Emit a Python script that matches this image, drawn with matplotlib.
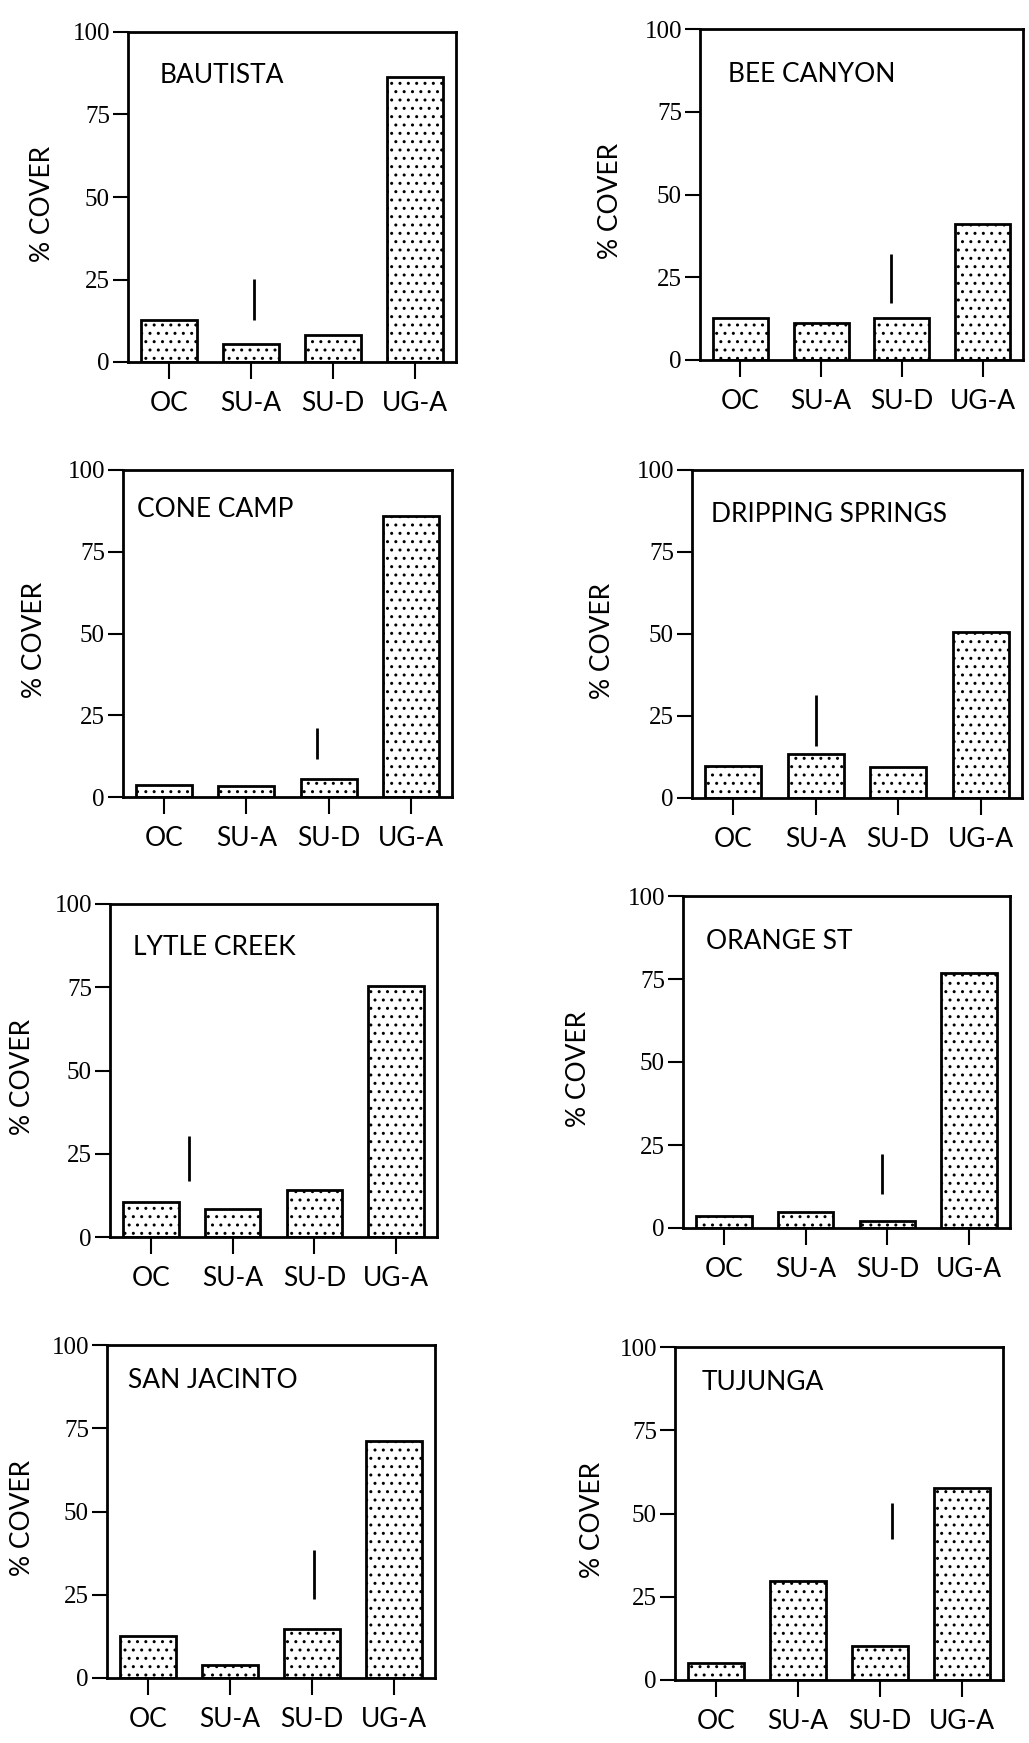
import matplotlib
matplotlib.use("Agg")
import matplotlib.pyplot as plt

plt.rcParams['hatch.linewidth'] = 1.0

# % cover by site and vegetation type
categories = ["OC", "SU-A", "SU-D", "UG-A"]
sites = ["BAUTISTA", "BEE CANYON", "CONE CAMP", "DRIPPING SPRINGS",
         "LYTLE CREEK", "ORANGE ST", "SAN JACINTO", "TUJUNGA"]

bautista = [12.7, 5.5, 8.2, 86.4]
bee_canyon = [12.6, 11.1, 12.6, 41.1]
cone_camp = [3.6, 3.3, 5.6, 85.9]
dripping_springs = [9.8, 13.4, 9.3, 50.6]
lytle_creek = [10.5, 8.3, 14.2, 75.5]
orange_st = [3.7, 4.8, 2.2, 76.7]
san_jacinto = [12.6, 3.8, 14.8, 71.1]
tujunga = [5.0, 29.8, 10.3, 57.6]
cover = [bautista, bee_canyon, cone_camp, dripping_springs,
         lytle_creek, orange_st, san_jacinto, tujunga]

# LSD bar: position (in category units) and its low / high ends
lsd_x = [1.04, 1.87, 1.86, 1.0, 0.47, 1.94, 2.03, 2.15]
lsd_lo = [12.8, 17.3, 11.7, 15.9, 16.8, 10.3, 23.8, 42.3]
lsd_hi = [25.3, 32.1, 21.2, 31.5, 30.3, 22.4, 38.4, 53.1]

yticks = [0, 25, 50, 75, 100]

W, H = 1029, 1743
# axes boxes in pixels: left, right, top, bottom
boxes = [(128, 456, 32, 362), (700, 1023, 29, 360),
         (123, 452, 470, 797), (692, 1022, 470, 798),
         (110, 437, 904, 1237), (683, 1010, 896, 1228),
         (107, 435, 1345, 1678), (675, 1003, 1347, 1680)]
# site name position (axes fraction), y label offset (px left of axis)
name_pos = [(0.095, 0.845), (0.087, 0.84), (0.043, 0.856), (0.058, 0.84),
            (0.07, 0.847), (0.07, 0.84), (0.064, 0.87), (0.082, 0.87)]
ylab_dx = [86, 90, 88, 89, 87, 105, 84, 83]

fig = plt.figure(figsize=(W / 100, H / 100), dpi=100)

for i in range(8):
    l, r, t, b = boxes[i]
    ax = fig.add_axes([l / W, 1 - b / H, (r - l) / W, (b - t) / H])
    ax.bar(range(4), cover[i], width=0.68, color='white', edgecolor='black',
           linewidth=2, hatch='..')
    ax.vlines(lsd_x[i], lsd_lo[i], lsd_hi[i], color='black', linewidth=2)
    ax.set_xlim(-0.5, 3.5)
    ax.set_ylim(0, 100)
    ax.set_yticks(yticks)
    ax.set_yticklabels([str(v) for v in yticks], family='Liberation Serif',
                       fontsize=18)
    ax.set_xticks(range(4))
    ax.set_xticklabels(categories, family='Lato', fontsize=19)
    ax.tick_params(axis='y', direction='out', length=11, width=1.5, pad=2)
    ax.tick_params(axis='x', direction='out', length=12, width=1.5, pad=9)
    for side in ['left', 'bottom', 'top', 'right']:
        ax.spines[side].set_linewidth(2)
    ax.text(name_pos[i][0], name_pos[i][1], sites[i], transform=ax.transAxes,
            family='Lato', fontsize=19, va='baseline', ha='left')
    ax.text(-ylab_dx[i] / (r - l), 0.48, "% COVER", transform=ax.transAxes,
            family='Lato', fontsize=19, rotation=90, ha='center', va='center')

plt.savefig("out.png", dpi=100)
